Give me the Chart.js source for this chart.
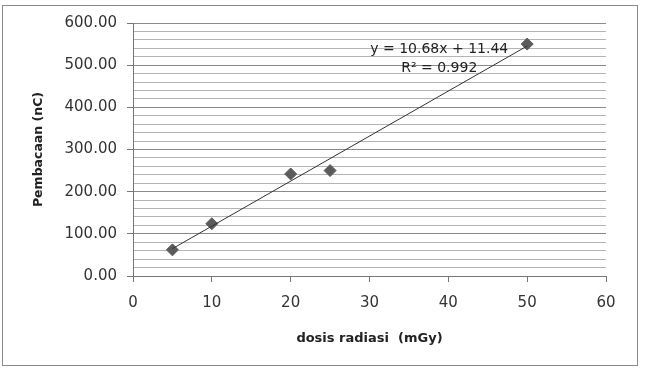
<!DOCTYPE html>
<html>
<head>
<meta charset="utf-8">
<script src="https://cdn.jsdelivr.net/npm/chart.js@4"></script>
<style>
  html, body { margin: 0; padding: 0; background: #fff; }
  #wrap { position: absolute; left: 0; top: 0; width: 646px; height: 368px; }
</style>
</head>
<body>
<div id="wrap"><canvas id="myChart" width="646" height="368"></canvas></div>
<script>
var doses = [5, 10, 20, 25, 50];
var readings = [62, 124, 242, 250, 550];
var trendSlope = 10.68;
var trendIntercept = 11.44;
var trendX = [5, 50];
var eqText = 'y = 10.68x + 11.44';
var r2Text = 'R² = 0.992';

var points = doses.map(function (d, i) { return { x: d, y: readings[i] }; });
var trendPoints = trendX.map(function (x) { return { x: x, y: trendSlope * x + trendIntercept }; });

var tickFont = { family: 'DejaVu Sans', size: 15 };

var extras = {
    id: 'extras',
    afterDraw: function (chart) {
        var c = chart.ctx;
        c.save();
        c.strokeStyle = '#8c8c8c';
        c.lineWidth = 1;
        c.strokeRect(2.5, 5.5, 635, 360);
        var xs = chart.scales.x, ys = chart.scales.y;
        c.fillStyle = '#222';
        c.font = '14px DejaVu Sans';
        c.textAlign = 'center';
        c.textBaseline = 'middle';
        c.fillText(eqText, xs.getPixelForValue(38.85), ys.getPixelForValue(538));
        c.fillText(r2Text, xs.getPixelForValue(38.85), ys.getPixelForValue(493));
        c.restore();
    }
};

var ctx = document.getElementById('myChart').getContext('2d');
var myChart = new Chart(ctx, {
    type: 'scatter',
    data: {
        datasets: [{
            label: 'Linear',
            type: 'line',
            data: trendPoints,
            borderColor: '#333333',
            borderWidth: 1,
            pointRadius: 0,
            fill: false
        },
        {
            label: 'Pembacaan',
            data: points,
            pointStyle: 'rectRot',
            pointRadius: 6,
            pointHoverRadius: 6,
            backgroundColor: '#5b5b5b',
            borderColor: '#5b5b5b'
        }]
    },
    options: {
        responsive: false,
        animation: false,
        layout: { padding: { left: 31, top: 23, right: 40, bottom: 22 } },
        plugins: {
            legend: { display: false },
            tooltip: { enabled: false }
        },
        scales: {
            x: {
                type: 'linear',
                min: 0,
                max: 60,
                ticks: { stepSize: 10, color: '#333', font: tickFont, padding: 12 },
                grid: { drawOnChartArea: false, tickLength: 6, color: '#777' },
                border: { color: '#777' },
                title: {
                    display: true,
                    text: 'dosis radiasi  (mGy)',
                    color: '#222',
                    font: { family: 'DejaVu Sans', size: 13, weight: 'bold' },
                    padding: { top: 0, bottom: 0 }
                },
                afterFit: function (s) { s.height = 70; }
            },
            y: {
                min: 0,
                max: 600,
                ticks: {
                    stepSize: 20,
                    autoSkip: false,
                    color: '#333',
                    font: tickFont,
                    padding: 10,
                    callback: function (v) { return v % 100 === 0 ? v.toFixed(2) : ''; }
                },
                grid: {
                    tickLength: 6,
                    color: function (c) { return c.tick && c.tick.value % 100 === 0 ? '#8a8a8a' : '#b4b4b4'; },
                    tickColor: function (c) { return c.tick && c.tick.value % 100 === 0 ? '#777' : 'rgba(0,0,0,0)'; }
                },
                border: { color: '#777' },
                title: {
                    display: true,
                    text: 'Pembacaan (nC)',
                    color: '#222',
                    font: { family: 'DejaVu Sans', size: 12.5, weight: 'bold' },
                    padding: { top: 0, bottom: 0 }
                },
                afterFit: function (s) { s.width = 102; }
            }
        }
    },
    plugins: [extras]
});
</script>
</body>
</html>
